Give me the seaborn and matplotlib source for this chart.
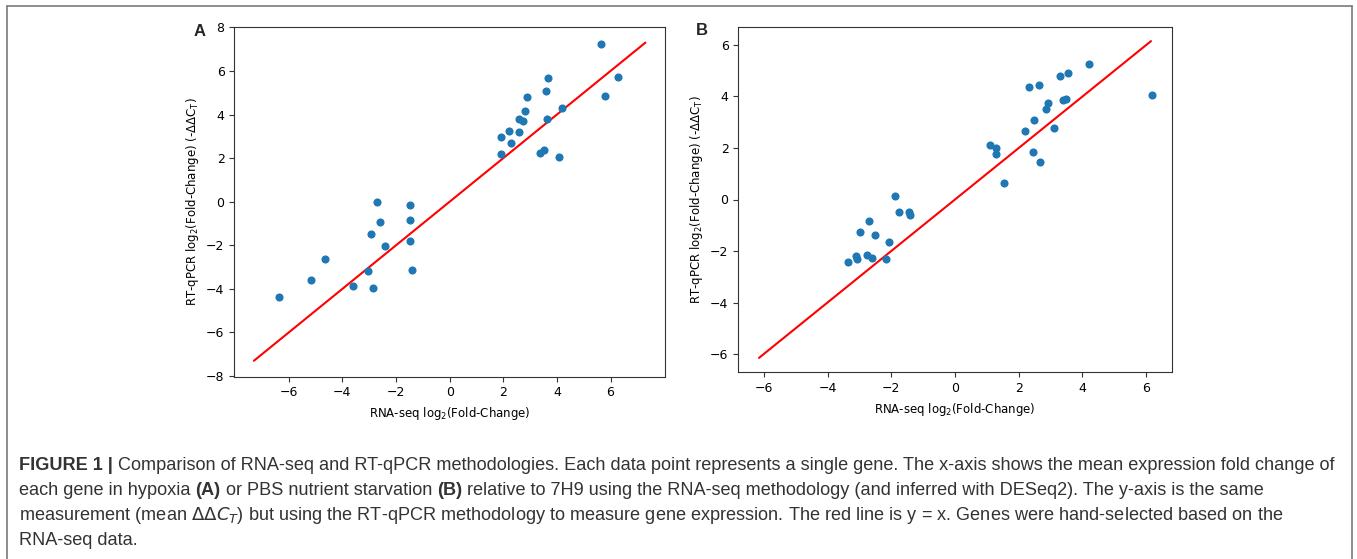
import matplotlib
matplotlib.use("Agg")
import matplotlib.pyplot as plt
import seaborn as sns
from matplotlib.lines import Line2D

# ---------------- data ----------------
# Panel A: hypoxia
a_rnaseq = [-6.36, -5.16, -4.64, -3.62, -3.03, -2.87, -2.92, -2.72, -2.61, -2.41,
            -1.49, -1.49, -1.48, -1.42,
            1.93, 1.92, 2.20, 2.30, 2.60, 2.60, 2.74, 2.81, 2.87, 3.37, 3.53,
            3.61, 3.66, 3.63, 4.09, 4.18, 5.66, 5.81, 6.27]
a_qpcr = [-4.36, -3.60, -2.64, -3.87, -3.19, -3.98, -1.48, 0.00, -0.95, -2.03,
          -0.17, -0.82, -1.80, -3.13,
          2.97, 2.21, 3.25, 2.68, 3.80, 3.22, 3.72, 4.18, 4.80, 2.24, 2.39,
          5.09, 5.66, 3.80, 2.06, 4.28, 7.24, 4.86, 5.70]
# Panel B: PBS nutrient starvation
b_rnaseq = [-3.37, -3.10, -3.08, -2.98, -2.75, -2.71, -2.62, -2.52, -2.15, -2.06,
            -1.87, -1.77, -1.43, -1.42,
            1.10, 1.30, 1.29, 1.53, 2.20, 2.32, 2.46, 2.48, 2.63, 2.66, 2.85,
            2.91, 3.12, 3.28, 3.40, 3.48, 3.54, 4.22, 6.17]
b_qpcr = [-2.42, -2.21, -2.32, -1.27, -2.16, -0.84, -2.27, -1.36, -2.32, -1.66,
          0.14, -0.50, -0.50, -0.61,
          2.12, 1.99, 1.76, 0.65, 2.67, 4.36, 1.85, 3.09, 4.45, 1.46, 3.53,
          3.74, 2.77, 4.79, 3.88, 3.92, 4.91, 5.26, 4.05]
# y = x reference lines
a_identity = [-7.3, 7.3]
b_identity = [-6.15, 6.15]

a_xticks = [-6, -4, -2, 0, 2, 4, 6]
a_yticks = [-8, -6, -4, -2, 0, 2, 4, 6, 8]
b_xticks = [-6, -4, -2, 0, 2, 4, 6]
b_yticks = [-6, -4, -2, 0, 2, 4, 6]

panel_letters = ["A", "B"]
xlabel = r"RNA-seq log$_2$(Fold-Change)"
ylabel = r"RT-qPCR log$_2$(Fold-Change) (-$\Delta\Delta$C$_\mathrm{T}$)"

caption_lines = [
    [("FIGURE 1 |", "bold", False),
     ("Comparison of RNA-seq and RT-qPCR methodologies. Each data point represents a single gene. "
      "The x-axis shows the mean expression fold change of", "normal", True)],
    [("each gene in hypoxia", "normal", False), ("(A)", "bold", True),
     ("or PBS nutrient starvation", "normal", True), ("(B)", "bold", True),
     ("relative to 7H9 using the RNA-seq methodology (and inferred with DESeq2). "
      "The y-axis is the same", "normal", True)],
    [(r"measurement (mean $\Delta\Delta C_T$) but using the RT-qPCR methodology to measure gene "
      r"expression. The red line is y = x. Genes were hand-selected based on the", "normal", False)],
    [("RNA-seq data.", "normal", False)],
]

# ---------------- style ----------------
sns.set_theme(style="ticks")
plt.rcParams.update({
    "font.family": ["DejaVu Sans"],
    "axes.linewidth": 0.8,
    "axes.edgecolor": "#333333",
    "xtick.major.size": 3.5,
    "ytick.major.size": 3.5,
    "xtick.major.width": 0.8,
    "ytick.major.width": 0.8,
    "xtick.color": "#333333",
    "ytick.color": "#333333",
    "xtick.labelcolor": "black",
    "ytick.labelcolor": "black",
    "xtick.labelsize": 9,
    "ytick.labelsize": 9,
    "axes.labelsize": 8.5,
    "axes.labelcolor": "black",
    "xtick.major.pad": 3.5,
    "ytick.major.pad": 3.5,
    "axes.labelpad": 4.0,
})

W, H = 1357, 559
fig = plt.figure(figsize=(W / 100, H / 100), dpi=100)
fig.patch.set_facecolor("white")

axA = fig.add_axes([234.3 / W, 1 - 376.7 / H, (665 - 234.3) / W, (376.7 - 26.7) / H])
axB = fig.add_axes([738.3 / W, 1 - 372.3 / H, (1171.7 - 738.3) / W, (372.3 - 26.7) / H])

panels = [
    (axA, a_rnaseq, a_qpcr, a_identity, a_xticks, a_yticks, (-8.03, 8.03), (-8.03, 8.03)),
    (axB, b_rnaseq, b_qpcr, b_identity, b_xticks, b_yticks, (-6.80, 6.80), (-6.71, 6.71)),
]
for ax, xs, ys, ident, xt, yt, xl, yl in panels:
    sns.lineplot(x=ident, y=ident, ax=ax, color="red", linewidth=1.5, zorder=1)
    sns.scatterplot(x=xs, y=ys, ax=ax, color="#1f77b4", s=34, linewidth=0, zorder=3)
    ax.set_xticks(xt)
    ax.set_yticks(yt)
    ax.set_xlim(*xl)
    ax.set_ylim(*yl)
    ax.set_xlabel(xlabel)
    ax.set_ylabel(ylabel)
    ax.tick_params(top=False, right=False)

fig.text(200 / W, 1 - 31.5 / H, panel_letters[0], fontsize=12, fontweight="bold",
         family=["Liberation Sans", "DejaVu Sans"], ha="center", va="center")
fig.text(702 / W, 1 - 30.5 / H, panel_letters[1], fontsize=12, fontweight="bold",
         family=["Liberation Sans", "DejaVu Sans"], ha="center", va="center")

# ---------------- caption ----------------
cap_family = ["Liberation Sans", "DejaVu Sans"]
cap_color = "#333333"
renderer = fig.canvas.get_renderer()


def run_width(runs, size):
    total = 0.0
    sp = _space(size)
    for text, weight, gap in runs:
        if gap:
            total += sp
        t = fig.text(0, 0, text, fontsize=size, fontweight=weight, family=cap_family)
        total += t.get_window_extent(renderer).width
        t.remove()
    return total


def _space(size):
    t1 = fig.text(0, 0, "x x", fontsize=size, family=cap_family)
    t2 = fig.text(0, 0, "xx", fontsize=size, family=cap_family)
    w = t1.get_window_extent(renderer).width - t2.get_window_extent(renderer).width
    t1.remove()
    t2.remove()
    return w


size = 10.0
target = 1335 - 19
for _ in range(3):
    size *= target / run_width(caption_lines[0], size)

sp = _space(size)
baselines = [470, 495, 520, 545]
for runs, yb in zip(caption_lines, baselines):
    x = 19.0
    for text, weight, gap in runs:
        if gap:
            x += sp
        t = fig.text(x / W, 1 - yb / H, text, fontsize=size, fontweight=weight,
                     family=cap_family, color=cap_color, ha="left", va="baseline")
        x = t.get_window_extent(renderer).x1

# frame around the figure panel (open at the bottom, as cropped)
frame_kw = dict(transform=fig.transFigure, color="#7a7a7a", linewidth=1.2)
fig.add_artist(Line2D([7 / W, 7 / W], [0, 1 - 6 / H], **frame_kw))
fig.add_artist(Line2D([7 / W, 1352 / W], [1 - 6 / H, 1 - 6 / H], **frame_kw))
fig.add_artist(Line2D([1352 / W, 1352 / W], [0, 1 - 6 / H], **frame_kw))

fig.savefig("out.png", dpi=100, facecolor="white")
